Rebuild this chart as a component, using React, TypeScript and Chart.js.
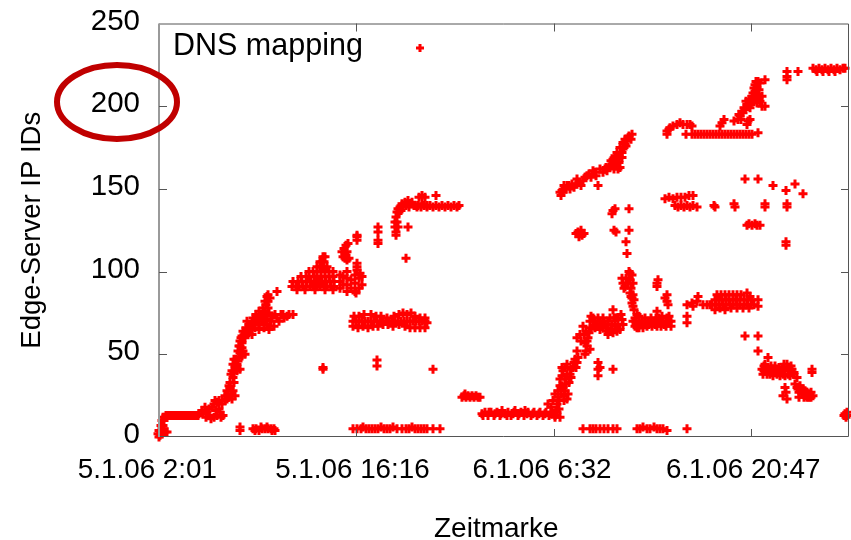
import React, { useEffect, useRef } from "react";
import { Chart, registerables } from "chart.js";

Chart.register(...registerables);

type P = [number, number];

// x = time step since 5.1.06 2:01 (about 4.33 minutes each), y = Edge-Server IP ID
const tickLabels = ["5.1.06 2:01", "5.1.06 16:16", "6.1.06 6:32", "6.1.06 20:47"];
const tickSteps = [0, 197.3, 394.6, 591.9];
const yTicks = [0, 50, 100, 150, 200, 250];
const seriesName = "DNS mapping";

const startBurst: P[] = [[-1,2],[0,0],[1,1],[1,4],[2,7],[3,10],[4,12],[3,2],[6,3],[8,3],[5,5],[4,7],[5,10],[2,3],[0,4]];
const firstFlat: P[] = [[6,12],[7,13],[9,13],[11,13],[13,13],[15,13],[17,13],[19,13],[21,13],[23,13],[25,13],[27,13],[29,13],[31,13],[33,13],[35,13],[37,13],[39,13]];
const firstStep: P[] = [[40,14],[43,16],[46,18],[48,15],[50,13],[53,18],[55,20],[58,21],[60,17],[52,11],[55,12],[58,13],[62,12],[64,13],[61,15],[63,20],[57,16],[50,17],[44,14],[47,12],[60,22],[56,22],[66,22]];
const firstRamp: P[] = [[63,22],[68,23],[73,23],[68,28],[71,30],[74,28],[76,25],[71,33],[74,36],[73,40],[76,43],[81,41],[79,46],[83,49],[86,50],[83,54],[81,58],[83,61],[88,62],[93,62],[91,65],[93,68],[98,70],[101,72],[104,73],[108,74],[109,78],[109,82],[109,86],[118,88],[69,26],[72,26],[70,31],[75,33],[72,38],[75,39],[77,42],[74,44],[78,44],[77,47],[80,48],[81,51],[84,52],[81,55],[83,57],[82,60],[85,61],[90,63],[89,65],[92,66],[95,69],[96,71],[99,72],[102,74],[106,76],[110,75],[111,84],[107,80],[108,85],[70,24],[66,25],[78,40],[75,47],[79,52],[80,55],[86,60],[84,64],[87,66],[90,68],[88,70],[94,72],[97,74],[100,76],[104,78],[105,71],[106,82]];
const firstBand: P[] = [[105,66],[110,65],[115,67],[120,70],[125,72],[130,74],[134,74],[128,73],[122,74],[116,74],[112,70],[108,68],[100,68],[96,66],[103,70],[107,71],[113,73],[118,72],[124,74],[100,65],[111,67]];
const earlyFives: P[] = [[81,6],[81,4],[94,5],[97,5],[100,4],[103,5],[106,5],[109,5],[112,5],[115,5],[116,4],[96,4],[102,6],[108,6],[113,4]];
const wedge: P[] = [[133,91],[137,91],[140,91],[144,91],[147,91],[151,91],[154,91],[158,91],[161,91],[165,91],[168,91],[172,91],[175,91],[134,94],[139,94],[143,94],[148,94],[152,94],[156,94],[160,94],[163,94],[167,94],[171,94],[175,94],[142,97],[147,97],[150,97],[155,97],[158,97],[162,97],[166,97],[170,97],[174,97],[150,100],[154,100],[158,100],[162,100],[166,100],[170,100],[174,100],[158,103],[161,103],[164,103],[168,103],[161,106],[163,106],[165,106],[164,109],[166,109],[138,89],[146,89],[156,89],[166,89],[174,89]];
const secondWedge: P[] = [[181,90],[181,94],[181,98],[184,92],[184,97],[188,88],[188,92],[188,96],[188,100],[192,90],[192,95],[196,88],[196,93],[196,98],[198,101],[200,90],[200,96],[203,92],[203,97],[201,99],[197,87]];
const smallBlobs: P[] = [[183,112],[184,109],[186,108],[188,107],[185,114],[187,116],[189,117],[188,112],[186,111],[190,108],[198,105],[198,103],[198,122],[198,119],[198,121],[219,127],[219,124],[219,119],[219,117],[164,41],[164,42],[218,46.5],[218,43],[274,41]];
const firstPlateau: P[] = [[237,124],[236,127],[236,130],[237,133],[238,136],[239,138],[241,139],[243,141],[246,142],[249,143],[252,141],[255,140],[258,139],[260,145],[263,146],[266,145],[263,141],[268,140],[249,127],[247,108],[277,146],[240,136],[242,137],[244,139],[247,140],[250,139],[253,142],[238,130],[239,127],[237,122]];
const plateauFlat: P[] = [[256,140],[259,140],[262,139],[265,140],[268,139],[271,140],[274,139],[277,140],[280,139],[283,140],[286,139],[289,140],[292,139],[295,140],[298,139],[300,140]];
const bandSeventy: P[] = [[194,70],[197,70],[200,70],[203,70],[206,70],[209,70],[212,70],[215,70],[218,70],[221,70],[224,70],[227,70],[230,70],[233,70],[236,70],[239,70],[242,70],[245,70],[248,70],[251,70],[254,70],[257,70],[260,70],[263,70],[266,70],[268,69],[194,67],[199,66],[204,67],[209,66],[214,67],[219,67],[224,68],[229,68],[234,67],[240,68],[246,67],[251,66],[256,66],[261,66],[266,66],[195,73],[200,73],[205,74],[212,74],[217,73],[222,73],[228,72],[235,73],[240,74],[244,75],[248,74],[252,75],[256,73],[261,72],[266,72]];
const bandFive: P[] = [[194,5],[198,5],[202,5],[204,6],[207,5],[210,5],[213,5],[216,5],[219,5],[222,6],[225,5],[228,5],[231,5],[234,6],[238,5],[243,5],[247,5],[250,5],[253,6],[256,5],[259,5],[262,5],[265,5],[268,5],[274,5],[281,5]];
const lateNight: P[] = [[303,24],[305,25],[307,24],[309,25],[311,24],[313,25],[315,24],[317,25],[319,24],[321,24],[306,26]];
const nightFlat: P[] = [[323,14],[326,15],[329,13],[332,15],[335,13],[338,15],[341,13],[343,16],[346,14],[349,15],[352,13],[355,15],[356,16],[359,13],[362,15],[365,13],[366,16],[369,15],[372,13],[375,15],[378,13],[381,15],[384,13],[387,15],[390,13],[393,15],[396,13],[398,15],[324,13],[330,15],[336,14],[342,14],[348,13],[354,14],[360,14],[368,14],[374,14],[380,14],[386,14],[392,14]];
const secondRamp: P[] = [[389,20],[394,22],[396,12],[401,12],[399,24],[399,28],[404,30],[409,26],[408,23],[403,31],[401,35],[404,40],[403,42],[411,38],[414,42],[418,45],[416,47],[418,52],[418,60],[424,67],[429,60],[428,55],[431,53],[426,57],[402,26],[405,25],[401,31],[406,35],[408,38],[406,42],[403,37],[412,41],[415,45],[392,18],[397,16],[405,22],[428,58],[430,63],[427,64],[398,20],[400,17],[406,28],[407,32],[410,33],[412,36],[400,22],[396,26],[408,44],[417,42],[419,48],[421,62],[422,58],[425,62],[432,66],[434,67],[427,52],[426,50]];
const midBlobs: P[] = [[439,45],[439,41],[439,37],[441,42],[454,41]];
const secondBand: P[] = [[431,70],[434,72],[439,72],[444,72],[449,70],[454,77],[463,71],[461,65],[454,63],[449,62],[444,67],[438,68],[453,68],[456,67],[436,70],[441,70],[446,68],[451,72],[457,72],[459,68],[449,66],[445,70],[442,67],[455,72],[459,72],[452,65],[447,64],[441,65],[436,66],[432,73],[458,64],[464,68],[462,74]];
const morningFives: P[] = [[424,5],[431,5],[434,5],[437,5],[441,5],[445,5],[449,5],[454,5],[458,5],[478,5],[481,5],[484,6],[488,5],[491,5],[495,6],[498,5],[501,5],[504,5],[508,4],[528,5]];
const morningPeak: P[] = [[471,99],[464,93],[474,93],[471,95],[473,84],[474,79],[478,74],[470,100],[473,98],[466,91],[469,93],[467,96],[472,90],[471,87],[465,90],[498,76],[498,93],[498,91],[499,95],[508,86],[508,82],[509,80],[506,84],[475,77],[473,81],[476,72],[472,85],[475,83],[474,86],[470,96],[463,96]];
const morningBand: P[] = [[474,70],[477,70],[480,70],[483,70],[486,70],[489,70],[492,70],[495,70],[498,70],[501,70],[504,70],[507,70],[510,70],[476,67],[480,66],[484,66],[488,67],[493,67],[498,67],[502,67],[507,67],[480,73],[486,72],[492,72],[497,72],[503,73],[508,72],[528,73],[528,69],[482,68],[490,68],[496,68],[500,72],[505,68],[478,66],[510,73],[512,70],[512,67]];
const bandEighty: P[] = [[528,80],[534,79],[538,82],[539,85],[544,80],[548,80],[551,80],[553,80],[533,81],[557,80],[560,80],[564,80],[567,80],[571,80],[574,80],[578,80],[581,80],[585,80],[588,80],[592,80],[595,80],[556,83],[560,83],[563,83],[567,83],[570,83],[574,83],[577,83],[581,83],[585,83],[589,83],[593,83],[599,83],[599,79],[558,86],[562,86],[566,86],[570,86],[574,86],[578,86],[582,86],[588,87],[591,85],[556,77],[561,78],[566,77],[572,78],[578,78],[584,78],[590,78]];
const afternoonFall: P[] = [[586,61],[599,61],[599,52],[605,43],[605,40],[608,38],[610,40],[612,43],[615,40],[618,38],[620,42],[622,39],[625,40],[609,48],[628,44],[630,41],[634,38],[638,36],[624,38],[603,41],[653,39],[653,41],[626,30],[624,25],[628,23],[627,27],[638,30],[640,27],[643,26],[646,28],[650,26],[654,25],[645,24],[650,24],[640,24],[642,29],[636,32],[604,38],[606,44],[607,41],[609,42],[611,38],[613,41],[614,37],[616,43],[617,41],[619,40],[621,37],[623,42],[626,37],[629,38],[631,37],[632,43],[633,41],[635,39],[625,44],[639,29],[641,31],[644,29],[646,25],[648,27],[652,27],[648,24],[652,24]];
const endBlob: P[] = [[686,14],[688,15],[685,13],[687,12],[688,13]];
const upperRamp: P[] = [[402,146],[403,149],[405,152],[413,153],[418,156],[415,151],[428,158],[434,161],[439,152],[446,162],[453,165],[459,162],[456,170],[461,175],[466,180],[473,183],[401,148],[408,152],[411,150],[422,152],[430,159],[432,157],[436,160],[450,163],[455,162],[457,166],[460,166],[458,172],[462,172],[464,178],[467,176],[469,181],[463,169],[451,164],[448,161],[404,148],[407,150],[410,152],[417,153],[420,154],[424,155],[426,157],[437,158],[441,162],[444,160],[447,163],[452,167],[454,168],[456,165],[458,168],[460,170],[461,163],[463,172],[465,175],[466,177],[468,179],[470,182],[472,180]];
const scatterMid: P[] = [[454,137],[453,135],[456,138],[470,138],[455,125],[457,124],[470,125],[467,118],[468,111],[417,123],[419,124],[421,123],[423,122],[425,123],[420,121],[422,125]];
const eveningTop: P[] = [[508,183],[508,185],[510,186],[511,187],[514,188],[518,189],[521,190],[524,189],[528,189],[531,189],[533,188],[527,183],[533,183],[536,183],[539,183],[542,183],[545,183],[548,183],[551,183],[554,183],[557,183],[560,183],[563,183],[566,183],[569,183],[572,183],[575,183],[578,183],[581,183],[584,183],[587,183],[590,183],[593,183],[599,184],[563,190],[561,188],[565,192],[575,191],[589,191],[588,189],[591,192]];
const eveningRamp: P[] = [[579,192],[583,197],[588,201],[594,203],[596,209],[599,215],[606,216],[606,200],[603,206],[581,194],[585,199],[590,204],[592,201],[597,204],[599,207],[596,213],[598,211],[601,214],[603,200],[589,200],[594,208],[628,218],[628,221],[628,216],[639,221],[580,195],[582,192],[584,196],[586,198],[587,203],[591,199],[593,206],[595,205],[595,211],[597,208],[597,215],[600,210],[600,205],[598,202],[601,203]];
const nightTop: P[] = [[654,223],[657,222],[660,223],[663,222],[666,223],[669,222],[672,223],[675,222],[678,223],[681,222],[684,223],[686,223],[658,221],[664,221],[670,221],[676,221]];
const eveningMid: P[] = [[506,144],[510,145],[514,144],[518,145],[522,145],[526,145],[530,146],[534,146],[516,140],[519,139],[522,140],[525,139],[528,140],[531,139],[534,140],[538,139],[556,139],[555,140],[576,139],[575,141],[606,139],[606,141],[628,139],[628,141],[586,156],[599,156],[614,152],[627,149],[636,153],[644,147],[588,128],[590,129],[593,128],[596,129],[598,128],[601,128],[627,116],[627,118]];

const allPoints: P[] = [
  ...startBurst, ...firstFlat, ...firstStep, ...firstRamp, ...firstBand, ...earlyFives,
  ...wedge, ...secondWedge, ...smallBlobs, ...firstPlateau, ...plateauFlat, ...bandSeventy,
  ...bandFive, ...lateNight, ...nightFlat, ...secondRamp, ...midBlobs, ...secondBand,
  ...morningFives, ...morningPeak, ...morningBand, ...bandEighty, ...afternoonFall, ...endBlob,
  ...upperRamp, ...scatterMid, ...eveningTop, ...eveningRamp, ...nightTop, ...eveningMid,
];

const FONT = "'Liberation Sans', Arial, sans-serif";
const RED = "#ff0000";
const trailingSpaces = [3, 1, 3, 2];

const framePlugin = {
  id: "gnuplotFrame",
  afterDatasetsDraw(chart: any) {
    const { ctx, chartArea: a, scales } = chart;
    ctx.save();
    ctx.strokeStyle = "#555555";
    ctx.lineWidth = 1;
    ctx.beginPath();
    ctx.moveTo(a.left, a.top + 0.5);
    ctx.lineTo(a.right - 0.5, a.top + 0.5);
    ctx.lineTo(a.right - 0.5, a.bottom - 0.5);
    ctx.lineTo(a.left, a.bottom - 0.5);
    ctx.stroke();
    ctx.strokeStyle = "#9a9a9a";
    ctx.lineWidth = 2;
    ctx.beginPath();
    ctx.moveTo(a.left, a.top);
    ctx.lineTo(a.left, a.bottom);
    ctx.stroke();
    ctx.strokeStyle = "#555555";
    ctx.lineWidth = 1;
    ctx.beginPath();
    tickSteps.forEach((t, i) => {
      if (i === 0) return;
      const x = Math.round(scales.x.getPixelForValue(t)) + 0.5;
      ctx.moveTo(x, a.bottom);
      ctx.lineTo(x, a.bottom - 8);
      ctx.moveTo(x, a.top);
      ctx.lineTo(x, a.top + 8);
    });
    yTicks.forEach((v) => {
      if (v === 0 || v === 250) return;
      const y = Math.round(scales.y.getPixelForValue(v)) + 0.5;
      ctx.moveTo(a.left, y);
      ctx.lineTo(a.left + 8, y);
      ctx.moveTo(a.right, y);
      ctx.lineTo(a.right - 8, y);
    });
    ctx.stroke();
    ctx.fillStyle = "#000000";
    ctx.font = `30.5px ${FONT}`;
    ctx.textAlign = "left";
    ctx.textBaseline = "middle";
    ctx.fillText(seriesName, 173, 47);
    ctx.strokeStyle = RED;
    ctx.lineWidth = 3;
    ctx.beginPath();
    ctx.moveTo(416, 48);
    ctx.lineTo(424, 48);
    ctx.moveTo(420, 44);
    ctx.lineTo(420, 52);
    ctx.stroke();
    ctx.strokeStyle = "#c00000";
    ctx.lineWidth = 6;
    ctx.beginPath();
    ctx.ellipse(117, 102, 60, 37, 0, 0, Math.PI * 2);
    ctx.stroke();
    ctx.restore();
  },
};

export default function App() {
  const ref = useRef<HTMLCanvasElement>(null);
  useEffect(() => {
    document.body.style.margin = "0";
    const chart = new Chart(ref.current as HTMLCanvasElement, {
      type: "scatter",
      data: {
        datasets: [
          {
            label: seriesName,
            data: allPoints.map(([x, y]) => ({ x, y })),
            pointStyle: "cross",
            pointRadius: 4.5,
            borderColor: RED,
            backgroundColor: RED,
            borderWidth: 3,
            clip: false as any,
          },
        ],
      },
      options: {
        animation: false,
        responsive: false,
        layout: { autoPadding: false, padding: { top: 23.5, right: 2, left: 0, bottom: 0 } },
        plugins: { legend: { display: false }, tooltip: { enabled: false } },
        scales: {
          x: {
            type: "linear",
            min: 0,
            max: 690,
            afterBuildTicks(scale: any) {
              scale.ticks = tickSteps.map((value) => ({ value }));
            },
            afterFit(scale: any) {
              scale.height = 103;
              scale.paddingLeft = 0;
              scale.paddingRight = 0;
            },
            grid: { display: false, drawTicks: false, tickLength: 0 },
            border: { display: false },
            ticks: {
              autoSkip: false,
              maxRotation: 0,
              padding: 17,
              color: "#000",
              font: { family: FONT, size: 27.8 },
              callback(_v: any, i: number) {
                return tickLabels[i] + " ".repeat(trailingSpaces[i]);
              },
            },
            title: {
              display: true,
              text: "Zeitmarke  ",
              color: "#000",
              font: { family: FONT, size: 28 },
              align: "center",
              padding: { top: 0, bottom: -6 },
            },
          },
          y: {
            type: "linear",
            min: 0,
            max: 250,
            afterBuildTicks(scale: any) {
              scale.ticks = yTicks.map((value) => ({ value }));
            },
            afterFit(scale: any) {
              scale.width = 159;
              scale.paddingTop = 0;
              scale.paddingBottom = 0;
            },
            grid: { display: false, drawTicks: false, tickLength: 0 },
            border: { display: false },
            ticks: {
              padding: 19,
              color: "#000",
              font: { family: FONT, size: 29.5, lineHeight: "4px" },
              callback(v: any) {
                return [String(v), ""];
              },
            },
            title: {
              display: true,
              text: "Edge-Server IP IDs",
              color: "#000",
              font: { family: FONT, size: 27.5 },
              padding: { top: 16, bottom: 0 },
            },
          },
        },
      },
      plugins: [framePlugin],
    } as any);
    return () => chart.destroy();
  }, []);
  return <canvas ref={ref} width={851} height={540} style={{ display: "block" }} />;
}
